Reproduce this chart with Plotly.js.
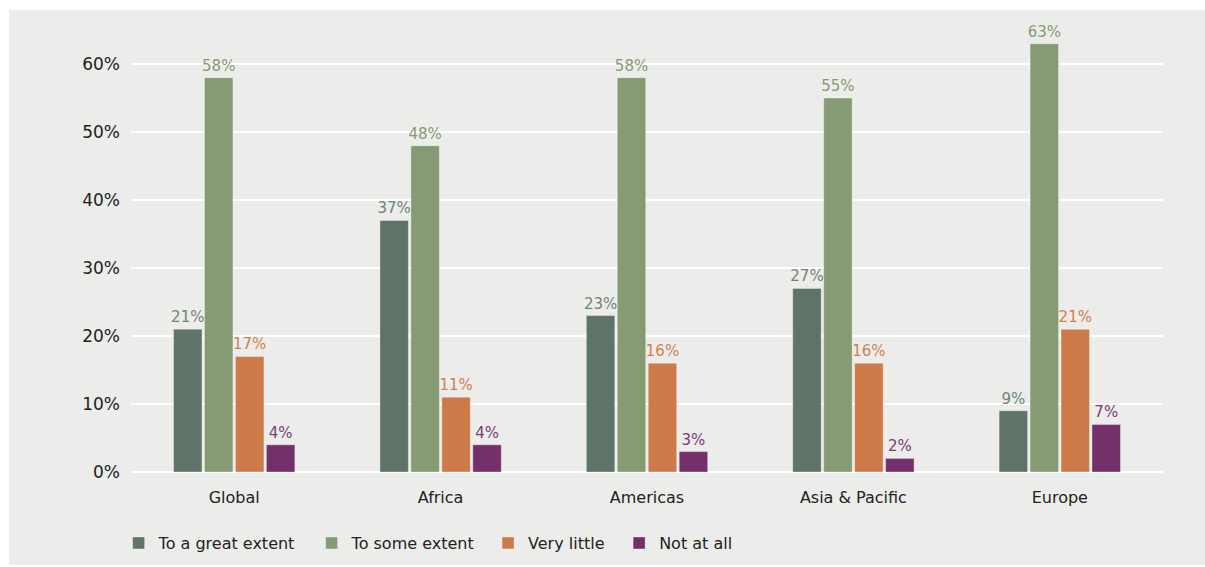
<!DOCTYPE html>
<html>
<head>
<meta charset="utf-8">
<script src="https://cdn.plot.ly/plotly-3.0.1.min.js"></script>
<style>
html,body{margin:0;padding:0;background:#ffffff;}
#chart{position:absolute;left:9px;top:10px;width:1196px;height:555px;}
</style>
</head>
<body>
<div id="chart"></div>
<script>
const categories = ["Global", "Africa", "Americas", "Asia & Pacific", "Europe"];
const seriesNames = ["To a great extent", "To some extent", "Very little", "Not at all"];
const greatExtent = [21, 37, 23, 27, 9];
const someExtent = [58, 48, 58, 55, 63];
const veryLittle = [17, 11, 16, 16, 21];
const notAtAll = [4, 4, 3, 2, 7];
const colors = ["#5f7468", "#869b74", "#cd7a4a", "#73306a"];
const textColors = ["#6f8478", "#869b74", "#d07f4f", "#7d3a74"];
const yTickVals = [0, 10, 20, 30, 40, 50, 60];
const yTickText = ["0%", "10%", "20%", "30%", "40%", "50%", "60%"];

const legendIds = ["legend", "legend2", "legend3", "legend4"];
const legendX = [-0.012, 0.175, 0.346, 0.473];

const seriesValues = [greatExtent, someExtent, veryLittle, notAtAll];
const traces = seriesValues.map((vals, i) => ({
  type: "bar",
  name: seriesNames[i],
  legend: legendIds[i],
  x: categories,
  y: vals,
  text: vals.map(v => v + "%"),
  textposition: "outside",
  constraintext: "none",
  cliponaxis: false,
  textfont: {family: "DejaVu Sans, Verdana, sans-serif", size: 15, color: textColors[i]},
  marker: {color: colors[i], line: {color: "rgba(255,255,255,0.35)", width: 1}},
  hoverinfo: "none"
}));

const layout = {
  width: 1196,
  height: 555,
  paper_bgcolor: "#ecedea",
  plot_bgcolor: "#ecedea",
  margin: {l: 122, r: 42, t: 18, b: 93, autoexpand: false},
  barmode: "group",
  bargap: 0.40,
  bargroupgap: 0.08,
  font: {family: "DejaVu Sans, Verdana, sans-serif", size: 16, color: "#222222"},
  xaxis: {
    type: "category",
    showgrid: false,
    showline: false,
    ticks: "",
    tickfont: {size: 16, color: "#222222"},
    ticklabelstandoff: 14,
    automargin: false
  },
  yaxis: {
    range: [0, 65.3],
    tickvals: yTickVals,
    ticktext: yTickText,
    showgrid: true,
    gridcolor: "#ffffff",
    gridwidth: 2,
    zeroline: true,
    zerolinecolor: "#ffffff",
    zerolinewidth: 2,
    showline: false,
    ticks: "",
    tickfont: {size: 17, color: "#222222"},
    ticklabelstandoff: 10,
    automargin: false
  },
  showlegend: true
};

legendIds.forEach((id, i) => {
  layout[id] = {
    orientation: "h",
    x: legendX[i],
    xanchor: "left",
    y: -0.16,
    yanchor: "middle",
    font: {size: 16, color: "#222222"},
    bgcolor: "rgba(0,0,0,0)"
  };
});

Plotly.newPlot("chart", traces, layout, {displayModeBar: false, staticPlot: true});
</script>
</body>
</html>
